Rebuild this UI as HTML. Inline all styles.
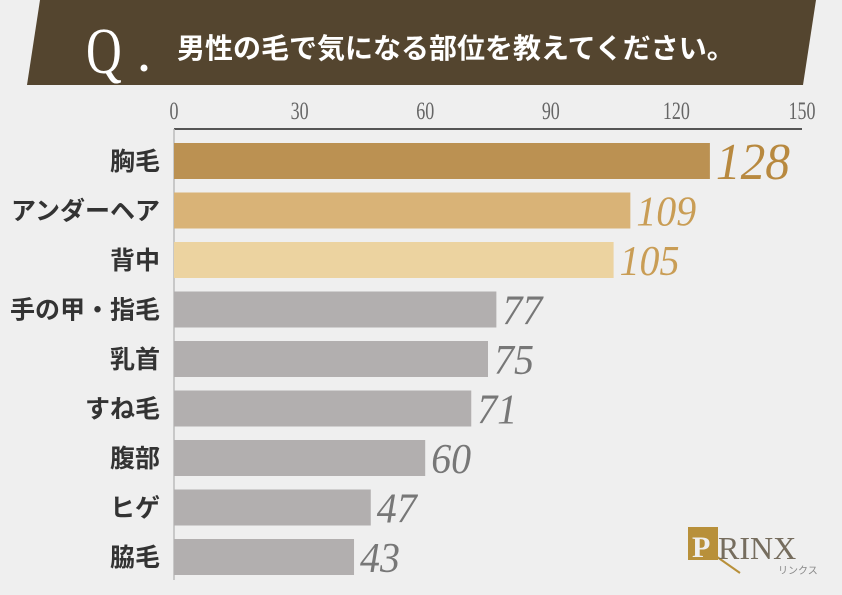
<!DOCTYPE html>
<html><head><meta charset="utf-8"><style>
body{margin:0;width:842px;height:595px;background:#efefef;overflow:hidden;font-family:"Liberation Sans","Noto Sans CJK JP",sans-serif}
svg{display:block}
</style></head><body>
<svg width="842" height="595">
<polygon points="40,0 816,0 803,85 27,85" fill="#54452f"/>
<text x="0" y="0" transform="translate(86,73) scale(0.75,1)" font-family="Liberation Serif,serif" font-size="66" fill="#fff">Q</text>
<circle cx="144" cy="68" r="3.5" fill="#fff"/>
<text x="177" y="58" font-family="'Liberation Sans','Noto Sans CJK JP',sans-serif" font-size="28" font-weight="bold" fill="#fff">男性の毛で気になる部位を教えてください。</text>
<g id="ticks"></g>
<line x1="174" y1="129" x2="802" y2="129" stroke="#222" stroke-width="1.5"/>
<line x1="174" y1="129" x2="174" y2="580" stroke="#bbb" stroke-width="1.5"/>
<g id="bars"></g>
<g>
<rect x="688" y="527" width="30" height="33" fill="#b8903a"/>
<line x1="700" y1="545" x2="740" y2="573" stroke="#b8903a" stroke-width="2"/>
<text x="692" y="557" font-family="Liberation Serif,serif" font-size="30" font-weight="bold" fill="#efefef">P</text>
<text x="718" y="559" font-family="Liberation Serif,serif" font-size="32" fill="#766d5e">RINX</text>
<text x="778" y="574" font-size="10" fill="#888">リンクス</text>
</g>
</svg>
<script>
const categories=["胸毛","アンダーヘア","背中","手の甲・指毛","乳首","すね毛","腹部","ヒゲ","脇毛"];
const values=[128,109,105,77,75,71,60,47,43];
const tickValues=[0,30,60,90,120,150];
const ns="http://www.w3.org/2000/svg";
const x0=174,x1=802,maxV=150;
const xs=v=>x0+(x1-x0)*v/maxV;
const ys=i=>161+i*49.5;
const barColors=["#bb9152","#d9b377","#ecd3a0"];
const labelColors=["#b8893f","#c99d55","#c99d55"];
function mk(tag,attrs,parent){const e=document.createElementNS(ns,tag);for(const k in attrs)e.setAttribute(k,attrs[k]);parent.appendChild(e);return e;}
const tg=document.getElementById("ticks");
tickValues.forEach(t=>{
 const e=mk("text",{x:0,y:0,"text-anchor":"middle","font-family":"Liberation Serif,serif","font-size":"25",fill:"#666",transform:`translate(${xs(t)},119) scale(0.72,1)`},tg);
 
 
 e.textContent=t;
});
const bg=document.getElementById("bars");
categories.forEach((c,i)=>{
 const y=ys(i);
 const r=mk("rect",{x:x0,y:y-18,width:xs(values[i])-x0,height:36,fill:i<3?barColors[i]:"#b2afaf"},bg);
 
 
 const l=mk("text",{x:160,y:y+9,"text-anchor":"end","font-size":"25","font-weight":"bold",fill:"#333"},bg);
 
 
 l.textContent=c;
 const big=i===0;
 const v=mk("text",{x:0,y:0,"font-family":"Liberation Serif,serif","font-style":"italic","font-size":big?"52":"42",fill:i<3?labelColors[i]:"#777",transform:`translate(${xs(values[i])+6},${y+(big?18:15)}) scale(0.95,1)`},bg);
 
 
 v.textContent=values[i];
});
</script>
</body></html>
